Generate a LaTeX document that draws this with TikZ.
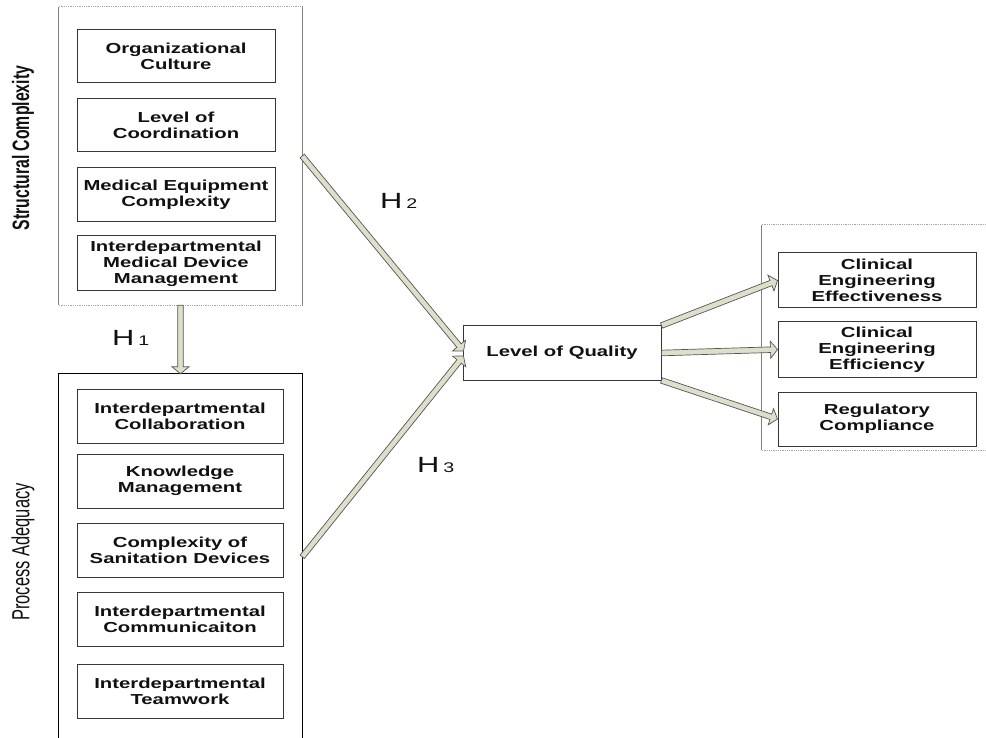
\documentclass[tikz,border=0pt]{standalone}
\usepackage{fontspec}
\newfontfamily\boxfont[FakeStretch=1.4]{Liberation Sans}
\newfontfamily\titlefont{Liberation Sans}
\usetikzlibrary{calc}

\definecolor{arrowfill}{RGB}{221,223,203}
\definecolor{arrowline}{RGB}{85,85,85}
\definecolor{boxline}{RGB}{55,55,55}
\definecolor{groupline}{RGB}{128,128,128}
\definecolor{inktext}{RGB}{17,17,17}

% Broad hypothesis arrow drawn as a filled outline from #1 to #2
\newcommand\hyparrow[2]{%
  \path let \p1=($(#2)-(#1)$) in
    \pgfextra{%
      \pgfmathsetmacro\arrangtmp{atan2(\y1,\x1)}%
      \pgfmathsetmacro\arrlentmp{veclen(\x1,\y1)}%
      \xdef\arrang{\arrangtmp}\xdef\arrlen{\arrlentmp}};
  \begin{scope}[shift={(#1)},rotate=\arrang]
    \filldraw[arrowbody]
      (0pt,-2.8pt) -- ({\arrlen pt-7pt},-2.8pt) -- ({\arrlen pt-7pt},-8.5pt)
      -- (\arrlen pt,0pt) -- ({\arrlen pt-7pt},8.5pt) -- ({\arrlen pt-7pt},2.8pt)
      -- (0pt,2.8pt) -- cycle;
  \end{scope}}

\tikzset{
  arrowbody/.style={fill=arrowfill,draw=arrowline,line width=0.7pt,line join=miter},
  factor/.style={draw=boxline,line width=1pt,minimum width=198pt,minimum height=54pt,
    align=center,inner sep=0pt,text=inktext,
    font=\boxfont\bfseries\fontsize{14.5}{16}\selectfont},
  group/.style={draw=none,inner sep=0pt},
  hyp/.style={anchor=west,inner sep=0pt,text=inktext,font=\boxfont\fontsize{22}{22}\selectfont},
  grouptitle/.style={rotate=90,inner sep=0pt,text=inktext},
  solidside/.style={draw=groupline,line width=0.9pt},
  dottedside/.style={draw=groupline!70,line width=0.8pt,densely dotted}
}

\begin{document}
\begin{tikzpicture}[x=1pt,y=-1pt]
  \useasboundingbox (0,0) rectangle (986,738);
  \clip (0,0) rectangle (986,738);

  % group frames
  \node[group,minimum width=243pt,minimum height=298pt] (scbox) at (180.5,156) {};
  \node[group,minimum width=243pt,minimum height=372pt] (pabox) at (180.5,560) {};
  \node[group,minimum width=232pt,minimum height=225pt] (rbox) at (878,337.5) {};

  \draw[solidside] (scbox.north west) -- (scbox.south west);
  \draw[solidside] (scbox.north east) -- (scbox.south east);
  \draw[dottedside] (scbox.north west) -- (scbox.north east);
  \draw[dottedside] (scbox.south west) -- (scbox.south east);

  \draw[black,line width=0.9pt] (pabox.south west) -- (pabox.north west)
    -- (pabox.north east) -- (pabox.south east);

  \draw[solidside] (rbox.north west) -- (rbox.south west);
  \draw[dottedside] (rbox.north west) -- (rbox.north east);
  \draw[dottedside] (rbox.south west) -- (rbox.south east);

  % group titles
  \node[grouptitle] (sctitle) at (23,148)
    {\scalebox{1}[1.5]{\titlefont\bfseries\fontsize{15.8}{16}\selectfont Structural Complexity}};
  \node[grouptitle] (patitle) at (23,552)
    {\scalebox{1}[1.5]{\titlefont\fontsize{16.5}{16.5}\selectfont Process Adequacy}};

  % structural complexity factors
  \node[factor,minimum height=53pt] (oc) at (176,56.5) {Organizational\\Culture};
  \node[factor,minimum height=53pt] (lc) at (176,125.5) {Level of\\Coordination};
  \node[factor] (mec) at (176,195) {Medical Equipment\\Complexity};
  \node[factor,minimum height=55pt] (imdm) at (176,263.5) {Interdepartmental\\Medical Device\\Management};

  % process adequacy factors
  \node[factor,minimum width=206pt] (ic) at (180,416) {Interdepartmental\\Collaboration};
  \node[factor,minimum width=206pt] (km) at (180,481) {Knowledge\\Management};
  \node[factor,minimum width=206pt] (csd) at (180,550) {Complexity of\\Sanitation Devices};
  \node[factor,minimum width=206pt] (icom) at (180,619) {Interdepartmental\\Communicaiton};
  \node[factor,minimum width=206pt] (it) at (180,691) {Interdepartmental\\Teamwork};

  % central construct
  \node[factor] (lq) at (562,353) {Level of Quality};

  % outcomes
  \node[factor,minimum height=55pt] (cee) at (877,280.5) {Clinical\\Engineering\\Effectiveness};
  \node[factor,minimum height=55pt] (cef) at (877,349.5) {Clinical\\Engineering\\Efficiency};
  \node[factor] (rc) at (877,419) {Regulatory\\Compliance};

  % connector ends
  \coordinate (h3s) at ($(pabox.north east)+(0,183)$);
  \coordinate (h2e) at ($(lq.west)+(1,-2)$);
  \coordinate (h3e) at ($(lq.west)+(1,3)$);

  % hypothesis arrows
  \hyparrow{scbox.south}{pabox.north}
  \hyparrow{scbox.east}{h2e}
  \hyparrow{h3s}{h3e}
  \hyparrow{lq.north east}{cee.west}
  \hyparrow{lq.east}{cef.west}
  \hyparrow{lq.south east}{rc.west}

  % hypothesis labels
  \node[hyp] (h1) at (112,338) {H\kern4pt{\fontsize{14}{14}\selectfont 1}};
  \node[hyp] (h2) at (380,201) {H\kern4pt{\fontsize{14}{14}\selectfont 2}};
  \node[hyp] (h3) at (417,465) {H\kern4pt{\fontsize{14}{14}\selectfont 3}};
\end{tikzpicture}
\end{document}
